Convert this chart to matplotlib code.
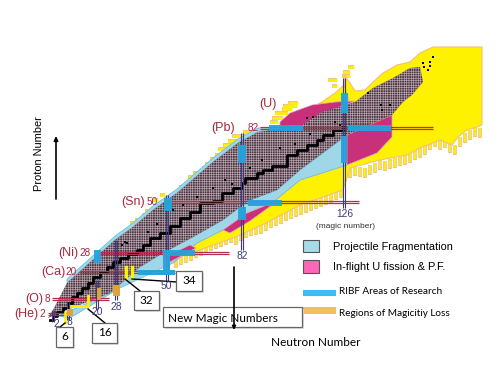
import numpy as np
import matplotlib
matplotlib.use('Agg')
import matplotlib.pyplot as plt
from matplotlib.patches import Polygon, Rectangle

band_x = [48, 53, 67, 115, 133, 153, 177, 213, 238, 258, 270, 302, 322, 355, 373, 393, 410, 420, 423, 412, 403, 392, 347, 300, 277, 248, 223, 193, 163, 140, 110, 67, 50]
band_y = [318, 310, 283, 240, 227, 210, 193, 162, 143, 132, 130, 125, 112, 102, 88, 78, 68, 67, 82, 95, 102, 115, 135, 170, 190, 201, 220, 237, 253, 267, 293, 310, 317]

pf_x = [58, 110, 140, 163, 193, 223, 248, 277, 300, 347, 347, 300, 267, 223, 197, 173, 120, 70]
pf_y = [316, 293, 267, 253, 237, 220, 201, 190, 170, 135, 165, 180, 207, 230, 243, 263, 288, 318]
pf_top_x = [67, 115, 133, 153, 177, 213, 238, 258, 276, 258, 238, 213, 177, 153, 133, 115, 67]
pf_top_y = [283, 240, 227, 210, 193, 162, 143, 132, 127, 128, 139, 158, 189, 206, 223, 236, 279]

fission_x = [347, 392, 392, 392, 377, 347]
fission_y = [135, 115, 125, 137, 153, 165]
fission_top_x = [280, 290, 312, 335, 355, 322, 302, 280]
fission_top_y = [122, 113, 105, 102, 101, 114, 127, 127]
fission_low_x = [223, 247, 267, 272, 250, 230]
fission_low_y = [230, 213, 205, 205, 221, 233]
fission_low2_x = [163, 190, 196, 170]
fission_low2_y = [258, 245, 248, 262]

yellow_x = [433, 482, 482, 477, 467, 458, 452, 440, 420, 407, 380, 350, 343, 300, 262, 233, 177, 173, 197, 223, 267, 300, 347, 344, 350, 355, 365, 373, 383, 397, 410, 420]
yellow_y = [47, 47, 125, 127, 130, 137, 145, 140, 148, 155, 160, 168, 190, 205, 225, 238, 258, 263, 243, 230, 207, 180, 165, 75, 83, 91, 90, 82, 73, 65, 62, 53]
yellow_top_x = [322, 318, 350, 344, 335]
yellow_top_y = [102, 104, 103, 85, 93]

comb_x = [176, 181, 186, 191, 196, 201, 206, 211, 216, 221, 226, 231, 236, 241, 246, 251, 256, 261, 266, 271, 276, 281, 286, 291, 296, 301, 306, 311, 316, 321, 326, 331, 336, 341,
          350, 355, 360, 365, 370, 375, 380, 385, 390, 395, 400, 405, 410, 415, 420, 425, 430, 435, 440, 445, 450, 455, 460, 465, 470, 475, 480]
comb_y = [268, 265, 263, 261, 258, 256, 253, 251, 249, 247, 245, 243, 245, 241, 238, 236, 235, 234, 231, 228, 226, 224, 221, 219, 217, 215, 213, 211, 209, 207, 205, 203, 200, 198,
          178, 176, 177, 178, 175, 173, 170, 171, 169, 168, 166, 165, 163, 160, 158, 155, 150, 147, 150, 148, 153, 155, 147, 143, 140, 137, 138]

bar_left = [122, 127, 130, 135, 142, 145, 152, 160, 170, 179, 188, 193, 202, 205, 210, 215, 218, 223, 228, 232, 243, 270, 272, 275, 282, 283, 288, 328, 332, 342, 343, 348]
bar_right = [125, 132, 135, 140, 145, 150, 158, 165, 175, 183, 195, 200, 208, 213, 220, 227, 233, 237, 238, 245, 258, 278, 283, 288, 292, 297, 298, 337, 337, 350, 350, 354]
bar_y = [233, 229, 223, 220, 215, 211, 200, 195, 196, 187, 177, 173, 168, 164, 159, 155, 149, 145, 141, 136, 132, 122, 118, 113, 109, 106, 103, 80, 86, 76, 72, 67]

stable_x = [50, 53, 57, 63, 68, 72, 77, 82, 88, 93, 100, 107, 113, 120, 128, 137, 143, 150, 160, 170, 180, 190, 200, 213, 222, 233, 242, 245, 257, 263, 272, 287, 297, 307, 317, 323, 333, 343]
stable_y = [320, 316, 312, 308, 303, 297, 293, 288, 283, 277, 272, 267, 262, 258, 254, 250, 245, 238, 233, 226, 218, 212, 203, 201, 193, 188, 183, 178, 173, 170, 166, 155, 150, 145, 140, 135, 130, 127]
dots_x = [127, 148, 157, 173, 183, 197, 213, 225, 232, 250, 262, 280, 295, 310, 320, 335, 340, 381, 390, 382, 368, 433, 430, 423, 424, 430, 428, 307, 313, 122, 125]
dots_y = [243, 232, 224, 210, 205, 197, 188, 180, 184, 168, 160, 148, 144, 134, 141, 122, 125, 105, 105, 110, 93, 57, 62, 63, 67, 66, 70, 118, 117, 245, 242]

z_magic = [('(He)', '2', 314, 48, 67, 26, 42), ('(O)', '8', 299, 52, 109, 34, 47), ('(Ca)', '20', 272, 80, 175, 53, 71),
           ('(Ni)', '28', 253, 100, 229, 68, 85), ('(Sn)', '50', 202, 165, 359, 133, 152), ('(Pb)', '82', 128, 260, 433, 223, 253)]
n_magic = [('2', 53, 310, 322, 56, 324), ('8', 68, 302, 320, 69, 322), ('20', 97, 280, 309, 97, 312), ('28', 116, 240, 300, 116, 307),
           ('50', 167, 195, 281, 166, 286), ('82', 242, 133, 250, 242, 256), ('126', 344, 78, 208, 345, 214)]

ribf_x0 = [94, 163, 138, 163, 164, 248, 238, 238, 269, 348, 341, 341]
ribf_x1 = [101, 170, 175, 195, 172, 282, 246, 246, 303, 391, 348, 347]
ribf_y0 = [250, 253, 270, 250, 198, 200, 145, 207, 125, 125, 93, 136]
ribf_y1 = [263, 275, 275, 256, 211, 206, 163, 220, 131, 131, 113, 163]

loss_x0 = [97, 113, 67]
loss_x1 = [101, 120, 73]
loss_y0 = [288, 285, 309]
loss_y1 = [300, 296, 316]

link_x0 = [125, 132, 88, 65]
link_y0 = [279, 279, 309, 323]
link_x1 = [140, 177, 105, 60]
link_y1 = [291, 282, 323, 327]

box_label = ['6', '16', '32', '34']
box_x0 = [56, 92, 134, 176]
box_x1 = [73, 117, 159, 202]
box_y0 = [327, 323, 291, 271]
box_y1 = [347, 343, 310, 291]

fig = plt.figure(figsize=(5, 3.75), dpi=100)
ax = fig.add_axes([0, 0, 1, 1])
ax.set_xlim(0, 500)
ax.set_ylim(375, 0)
ax.axis('off')

YEL = '#fff200'
EDGE = '#f0c080'
ax.vlines(comb_x, np.array(comb_y) - 10, comb_y, color=EDGE, lw=2.6, zorder=1)
ax.vlines(comb_x, np.array(comb_y) - 10, np.array(comb_y) - 0.8, color=YEL, lw=1.3, zorder=1.1)
ax.hlines(bar_y, bar_left, bar_right, color=EDGE, lw=2.8, zorder=1)
ax.hlines(bar_y, bar_left, bar_right, color=YEL, lw=1.9, zorder=1.1)
ax.add_patch(Polygon(np.column_stack([yellow_x, yellow_y]), fc=YEL, ec=EDGE, lw=0.8, zorder=1.2))
ax.add_patch(Polygon(np.column_stack([yellow_top_x, yellow_top_y]), fc=YEL, ec=EDGE, lw=0.8, zorder=1.2))

for xs, ys in [(pf_x, pf_y), (pf_top_x, pf_top_y)]:
    ax.add_patch(Polygon(np.column_stack([xs, ys]), fc='#9fd6e8', ec='#5bbfe0', lw=0.5, zorder=2))
for xs, ys in [(fission_x, fission_y), (fission_top_x, fission_top_y), (fission_low_x, fission_low_y), (fission_low2_x, fission_low2_y)]:
    ax.add_patch(Polygon(np.column_stack([xs, ys]), fc='#c9307a', ec='#e9a0c4', lw=0.5, zorder=2))

band = Polygon(np.column_stack([band_x, band_y]), fc='#4a3442', ec='none', zorder=3)
ax.add_patch(band)
gv = ax.vlines(np.arange(40, 430, 2.35), 40, 330, color='#ecdce2', lw=0.33, zorder=3.1)
gh = ax.hlines(np.arange(50, 330, 2.35), 40, 430, color='#ecdce2', lw=0.33, zorder=3.1)
for g in (gv, gh):
    g.set_clip_path(band)
    g.set_snap(False)

ax.plot(stable_x, stable_y, color='black', lw=2, drawstyle='steps-post', zorder=4)
ax.scatter(dots_x, dots_y, s=3, marker='s', color='black', lw=0, zorder=4)

RED = '#b5304e'
BLU = '#3d3a80'
for name, z, y, x0, x1, tx, tz in z_magic:
    ax.hlines([y - 1.2, y + 1.2], x0, x1, color=RED, lw=0.9, zorder=5)
    ax.text(tx, y, name, color='#a6283f', fontsize=9, ha='center', va='center', family='Liberation Sans', zorder=8)
    ax.text(tz, y, z, color='#a6283f', fontsize=7.2, ha='center', va='center', family='Liberation Sans', zorder=8)
ax.text(268, 104, '(U)', color='#a6283f', fontsize=9, ha='center', va='center', family='Liberation Sans')
for lab, x, y0, y1, tx, ty in n_magic:
    ax.vlines([x - 1.2, x + 1.2], y0, y1, color=BLU, lw=0.8, zorder=5)
    ax.text(tx, ty, lab, color=BLU, fontsize=7.4, ha='center', va='center', family='Liberation Sans', zorder=8)
ax.text(346, 226, '(magic number)', color='#333333', fontsize=6, ha='center', va='center', family='Liberation Sans')

for i in range(len(ribf_x0)):
    ax.add_patch(Rectangle((ribf_x0[i], ribf_y0[i]), ribf_x1[i] - ribf_x0[i], ribf_y1[i] - ribf_y0[i], fc='#27a3dc', ec='none', alpha=0.95, zorder=6))
for i in range(len(loss_x0)):
    ax.add_patch(Rectangle((loss_x0[i], loss_y0[i]), loss_x1[i] - loss_x0[i], loss_y1[i] - loss_y0[i], fc='#e0a23a', ec='none', zorder=6))

# yellow marks of the new magic numbers
ax.plot([125.5, 125.5], [267, 278], color=YEL, lw=2.4, zorder=7)
ax.plot([131.5, 131.5], [267, 278], color=YEL, lw=2.4, zorder=7)
ax.plot([71, 88, 88], [306, 306, 296], color=YEL, lw=2, zorder=7)
ax.plot([65, 65], [312, 323], color=YEL, lw=1.8, zorder=7)

for i in range(len(link_x0)):
    ax.plot([link_x0[i], link_x1[i]], [link_y0[i], link_y1[i]], color='black', lw=1, zorder=7)

for i, lab in enumerate(box_label):
    ax.add_patch(Rectangle((box_x0[i] + 1.5, box_y0[i] + 1.5), box_x1[i] - box_x0[i], box_y1[i] - box_y0[i], fc='#dddddd', ec='none', zorder=7))
    ax.add_patch(Rectangle((box_x0[i], box_y0[i]), box_x1[i] - box_x0[i], box_y1[i] - box_y0[i], fc='white', ec='#666666', lw=0.9, zorder=7.5))
    ax.text((box_x0[i] + box_x1[i]) / 2, (box_y0[i] + box_y1[i]) / 2, lab, fontsize=8.5, ha='center', va='center', family='Lato', zorder=8)

ax.add_patch(Rectangle((164.5, 308.5), 139, 20, fc='#dddddd', ec='none', zorder=7))
ax.add_patch(Rectangle((163, 307), 139, 20, fc='white', ec='#666666', lw=0.9, zorder=7.5))
ax.text(168, 318, 'New Magic Numbers', fontsize=8.5, ha='left', va='center', family='Lato', zorder=8)
ax.annotate('', xy=(234, 330), xytext=(234, 267), arrowprops=dict(arrowstyle='-|>,head_width=0.1,head_length=0.2', color='black', lw=1.2, shrinkA=0, shrinkB=0), zorder=9)
ax.annotate('', xy=(56, 136), xytext=(56, 199), arrowprops=dict(arrowstyle='-|>,head_width=0.12,head_length=0.25', color='black', lw=1.2, shrinkA=0, shrinkB=0))

ax.text(39, 154, 'Proton Number', fontsize=7.9, rotation=90, ha='center', va='center', family='Liberation Sans')
ax.text(316, 342, 'Neutron Number', fontsize=8.5, ha='center', va='center', family='Lato')

ax.add_patch(Rectangle((303, 240), 16, 12, fc='#a8dbea', ec='#555555', lw=0.8))
ax.add_patch(Rectangle((303, 260), 16, 13, fc='#ff66b5', ec='#555555', lw=0.8))
ax.text(333, 247, 'Projectile Fragmentation', fontsize=7.9, ha='left', va='center', family='Liberation Sans')
ax.text(333, 267, 'In-flight U fission & P.F.', fontsize=7.9, ha='left', va='center', family='Liberation Sans')
ax.add_patch(Rectangle((303, 290), 33, 6, fc='#3dbcf2', ec='none'))
ax.add_patch(Rectangle((303, 307), 33, 7, fc='#f5bd5c', ec='none'))
ax.text(339, 292, 'RIBF Areas of Research', fontsize=7.2, ha='left', va='center', family='Lato')
ax.text(339, 314, 'Regions of Magicitiy Loss', fontsize=7.2, ha='left', va='center', family='Lato')

fig.savefig('out.png', dpi=100)
